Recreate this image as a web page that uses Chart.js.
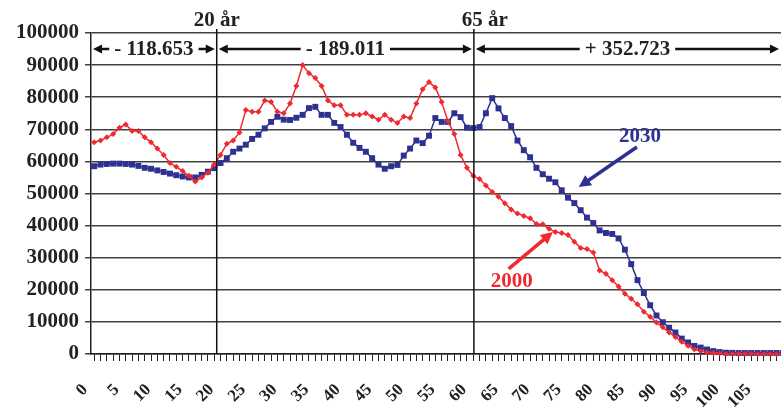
<!DOCTYPE html>
<html>
<head>
<meta charset="utf-8">
<script src="https://cdn.jsdelivr.net/npm/chart.js@4"></script>
<style>
  html, body { margin: 0; padding: 0; background: #fff; overflow: hidden; width: 781px; height: 410px; }
  #wrap { width: 786px; height: 410px; position: relative; }
</style>
</head>
<body>
<div id="wrap"><canvas id="myChart"></canvas></div>
<script>
"use strict";

// ages 0..109 on the category axis
const ages = Array.from({ length: 110 }, (_, i) => String(i));

const pop2000 = [
  66000, 66500, 67500, 68500, 70500, 71500, 69500, 69500, 67500, 66000,
  64000, 62000, 59500, 58300, 57000, 55500, 53700, 55000, 56500, 59000,
  62000, 65500, 66500, 69000, 76000, 75500, 75500, 79000, 78500, 75500,
  75000, 78000, 83500, 90000, 87500, 86000, 83500, 79000, 77500, 77500,
  74500, 74500, 74500, 75000, 74000, 73000, 74500, 73000, 72000, 74000,
  73500, 78000, 82500, 84700, 83000, 78500, 72500, 68500, 62000, 58000,
  55500, 54500, 52500, 50500, 49000, 47000, 45000, 43800, 43000, 42300,
  40500, 40400, 39000, 38000, 37700, 37100, 35000, 33000, 32700, 31600,
  26000, 25000, 23000, 21000, 18800, 17200, 15500, 13200, 11600, 9800,
  8300, 6700, 5300, 3800, 2600, 1500, 900, 500, 300, 200,
  100, 80, 60, 50, 40, 30, 20, 20, 10, 10
];

const pop2030 = [
  58500, 59000, 59200, 59300, 59300, 59200, 59000, 58600, 58000, 57700,
  57200, 56700, 56200, 55700, 55300, 55000, 55000, 55800, 56800, 57900,
  59500, 61000, 63000, 64000, 65200, 67000, 68300, 70300, 72300, 73900,
  73000, 72900, 73600, 74500, 76600, 77000, 74500, 74500, 72000, 70700,
  68300, 65800, 64200, 63000, 61000, 59000, 57700, 58500, 58900, 61800,
  64000, 66500, 65700, 68000, 73500, 72300, 72300, 75000, 73800, 70500,
  70400, 70700, 75000, 79700, 76500, 73500, 71000, 66500, 63500, 61300,
  58000, 56000, 54600, 53500, 51000, 48700, 47000, 44800, 42500, 40800,
  38500, 37700, 37400, 36000, 32500, 28000, 23000, 19000, 15200, 12000,
  9900, 8200, 6700, 4800, 3600, 2500, 2000, 1400, 900, 600,
  400, 350, 300, 300, 300, 300, 300, 300, 300, 300
];

const yTicks = [0, 10000, 20000, 30000, 40000, 50000, 60000, 70000, 80000, 90000, 100000];

// age dividers (position on the category axis) and their captions
const dividerPos = [19.4, 60.1];
const dividerLabels = ["20 år", "65 år"];
// change in each age group, shown between the dividers
const changeLabels = ["- 118.653", "- 189.011", "+ 352.723"];
const changeLevel = 95000;

// series captions: text, anchor [age, value], arrow from -> to
const seriesNotes = [
  { text: "2000", at: [66.1, 22700], from: [65.6, 26500], to: [72.6, 38000], color: "#ee2a30" },
  { text: "2030", at: [86.4, 67600], from: [85.9, 64500], to: [76.7, 52000], color: "#2e3192" }
];

const red = "#ee2a30";
const blue = "#2e3192";
const serif = "'Liberation Serif', 'Times New Roman', serif";

const arrowHead = (ctx, x, y, dir, len, half) => {
  ctx.beginPath();
  ctx.moveTo(x, y);
  ctx.lineTo(x - dir * len, y - half);
  ctx.lineTo(x - dir * len, y + half);
  ctx.closePath();
  ctx.fill();
};

const annotations = {
  id: "annotations",
  afterDraw(chart) {
    const { ctx, chartArea, scales } = chart;
    const x = scales.x;
    const y = scales.y;
    ctx.save();

    // vertical dividers + captions
    const divX = dividerPos.map((p) => x.getPixelForValue(p));
    ctx.strokeStyle = "#111";
    ctx.lineWidth = 1.5;
    ctx.fillStyle = "#222";
    ctx.font = "bold 21px " + serif;
    ctx.textAlign = "center";
    ctx.textBaseline = "alphabetic";
    divX.forEach((px, i) => {
      ctx.beginPath();
      ctx.moveTo(px, 29);
      ctx.lineTo(px, chartArea.bottom);
      ctx.stroke();
      ctx.fillText(dividerLabels[i], px + (i === 0 ? 0 : 11), 26);
    });

    // arrows with change numbers (last one ends at the visible edge)
    const edges = [chartArea.left, ...divX, Math.min(chartArea.right, window.innerWidth)];
    const ay = y.getPixelForValue(changeLevel);
    ctx.textBaseline = "middle";
    changeLabels.forEach((label, i) => {
      const x1 = edges[i] + 2;
      const x2 = edges[i + 1] - 2;
      ctx.strokeStyle = "#111";
      ctx.fillStyle = "#111";
      ctx.lineWidth = 2.5;
      ctx.beginPath();
      ctx.moveTo(x1 + 6, ay);
      ctx.lineTo(x2 - 6, ay);
      ctx.stroke();
      arrowHead(ctx, x1, ay, -1, 9, 4.5);
      arrowHead(ctx, x2, ay, 1, 9, 4.5);
      const cx = (x1 + x2) / 2;
      const w = ctx.measureText(label).width;
      ctx.fillStyle = "#fff";
      ctx.fillRect(cx - w / 2 - 5, ay - 10, w + 10, 20);
      ctx.fillStyle = "#222";
      ctx.fillText(label, cx, ay + 1);
    });

    // series captions with arrows
    seriesNotes.forEach((n) => {
      const fx = x.getPixelForValue(n.from[0]);
      const fy = y.getPixelForValue(n.from[1]);
      const tx = x.getPixelForValue(n.to[0]);
      const ty = y.getPixelForValue(n.to[1]);
      const ang = Math.atan2(ty - fy, tx - fx);
      ctx.strokeStyle = n.color;
      ctx.fillStyle = n.color;
      ctx.lineWidth = 3.5;
      ctx.beginPath();
      ctx.moveTo(fx, fy);
      ctx.lineTo(tx - Math.cos(ang) * 8, ty - Math.sin(ang) * 8);
      ctx.stroke();
      ctx.save();
      ctx.translate(tx, ty);
      ctx.rotate(ang);
      arrowHead(ctx, 0, 0, 1, 12, 6);
      ctx.restore();
      ctx.font = "bold 21px " + serif;
      ctx.textAlign = "center";
      ctx.textBaseline = "middle";
      ctx.fillText(n.text, x.getPixelForValue(n.at[0]), y.getPixelForValue(n.at[1]));
    });

    ctx.restore();
  }
};

const config = {
  type: "line",
  data: {
    labels: ages,
    datasets: [
      {
        label: "2000",
        data: pop2000,
        borderColor: red,
        backgroundColor: red,
        borderWidth: 1.5,
        pointStyle: "rectRot",
        pointRadius: 3,
        pointBorderWidth: 0,
        tension: 0,
        clip: false,
      },
      {
        label: "2030",
        data: pop2030,
        borderColor: blue,
        backgroundColor: blue,
        borderWidth: 1.5,
        pointStyle: "rect",
        pointRadius: 4.2,
        pointBorderWidth: 0,
        tension: 0,
        clip: false,
      },
    ],
  },
  options: {
    responsive: true,
    maintainAspectRatio: false,
    animation: false,
    layout: { autoPadding: false, padding: { top: 33, right: 0, left: 0, bottom: 0 } },
    scales: {
      x: {
        offset: true,
        grid: {
          drawOnChartArea: false,
          drawTicks: true,
          tickLength: 7,
          color: "#222",
        },
        border: { color: "#222", width: 1.5 },
        ticks: {
          autoSkip: false,
          minRotation: 45,
          maxRotation: 45,
          padding: 19,
          labelOffset: -9,
          color: "#222",
          font: { family: serif, size: 17, weight: "bold" },
          callback: (val, i) => (i % 5 === 0 ? ages[i] : ""),
        },
        afterFit: (scale) => {
          scale.height = 56;
          scale.paddingLeft = 0;
          scale.paddingRight = 0;
        },
      },
      y: {
        min: 0,
        max: 100000,
        afterBuildTicks: (scale) => {
          scale.ticks = yTicks.map((v) => ({ value: v }));
        },
        grid: {
          color: "#404040",
          lineWidth: 1.5,
          tickLength: 6,
        },
        border: { color: "#222", width: 1.5 },
        ticks: {
          padding: 6,
          color: "#222",
          font: { family: serif, size: 21, weight: "bold" },
          callback: (v) => String(v),
        },
        afterFit: (scale) => {
          scale.width = 91;
        },
      },
    },
    plugins: {
      legend: { display: false },
      tooltip: { enabled: false },
    },
  },
  plugins: [annotations],
};

new Chart(document.getElementById("myChart"), config);
</script>
</body>
</html>
